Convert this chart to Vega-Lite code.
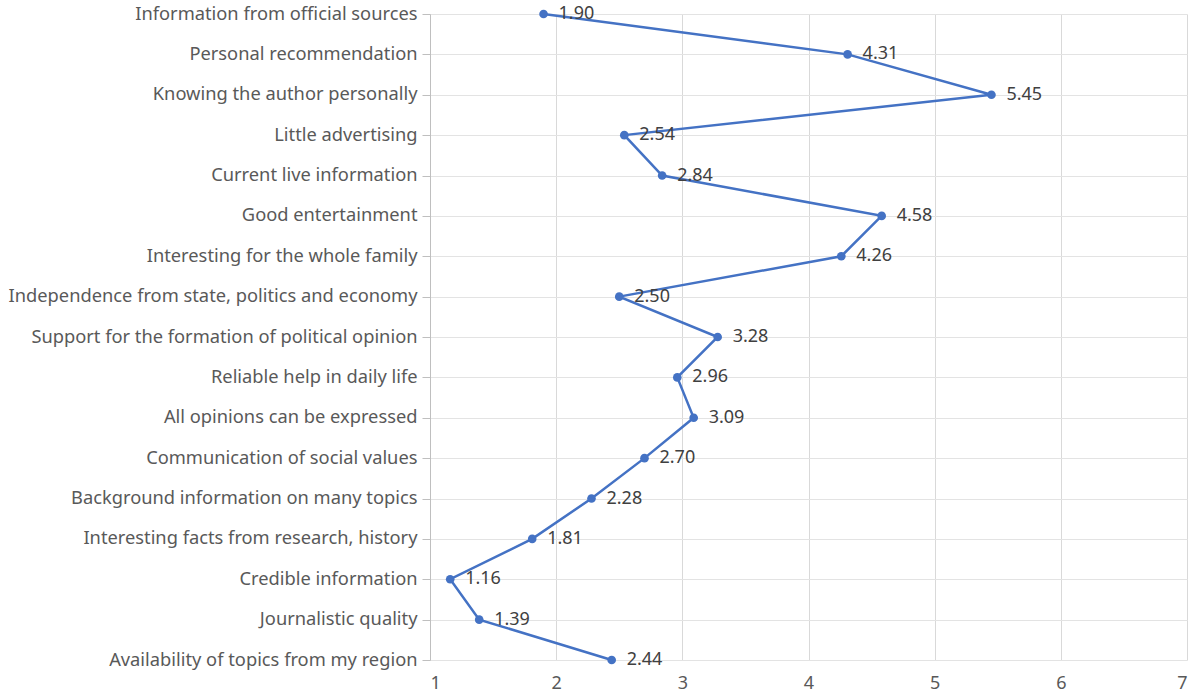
{
  "$schema": "https://vega.github.io/schema/vega-lite/v6.json",
  "width": 757,
  "height": 646,
  "autosize": "none",
  "padding": {"left": 430, "top": 14, "right": 10, "bottom": 35},
  "background": "white",
  "config": {
    "view": {"stroke": null},
    "font": "Noto Sans"
  },
  "data": {
    "values": [
      {"item": "Information from official sources", "value": 1.90},
      {"item": "Personal recommendation", "value": 4.31},
      {"item": "Knowing the author personally", "value": 5.45},
      {"item": "Little advertising", "value": 2.54},
      {"item": "Current live information", "value": 2.84},
      {"item": "Good entertainment", "value": 4.58},
      {"item": "Interesting for the whole family", "value": 4.26},
      {"item": "Independence from state, politics and economy", "value": 2.50},
      {"item": "Support for the formation of political opinion", "value": 3.28},
      {"item": "Reliable help in daily life", "value": 2.96},
      {"item": "All opinions can be expressed", "value": 3.09},
      {"item": "Communication of social values", "value": 2.70},
      {"item": "Background information on many topics", "value": 2.28},
      {"item": "Interesting facts from research, history", "value": 1.81},
      {"item": "Credible information", "value": 1.16},
      {"item": "Journalistic quality", "value": 1.39},
      {"item": "Availability of topics from my region", "value": 2.44}
    ]
  },
  "encoding": {
    "y": {
      "field": "item", "type": "nominal", "sort": null,
      "scale": {"type": "point", "padding": 0},
      "axis": {
        "title": null, "labelFontSize": 18.3, "labelColor": "#595959", "labelLimit": 500,
        "domainColor": "#bfbfbf", "tickColor": "#bfbfbf", "tickSize": 8, "labelPadding": 5,
        "gridColor": "#e3e3e3", "grid": true, "labelFont": "Noto Sans"
      }
    },
    "x": {
      "field": "value", "type": "quantitative",
      "scale": {"domain": [1, 7], "nice": false, "zero": false},
      "axis": {
        "title": null, "values": [1, 2, 3, 4, 5, 6, 7], "labelFontSize": 18, "labelColor": "#595959",
        "domain": false, "ticks": false, "labelPadding": 14, "gridColor": "#d9d9d9", "labelFont": "Noto Sans"
      }
    }
  },
  "layer": [
    {
      "mark": {"type": "line", "color": "#4472C4", "strokeWidth": 2.5},
      "encoding": {"order": {"value": null}}
    },
    {
      "mark": {"type": "point", "filled": true, "color": "#4472C4", "size": 75, "opacity": 1}
    },
    {
      "mark": {"type": "text", "align": "left", "baseline": "middle", "dx": 15, "fontSize": 18, "color": "#404040", "font": "Noto Sans"},
      "encoding": {"text": {"field": "value", "type": "quantitative", "format": ".2f"}}
    }
  ]
}
